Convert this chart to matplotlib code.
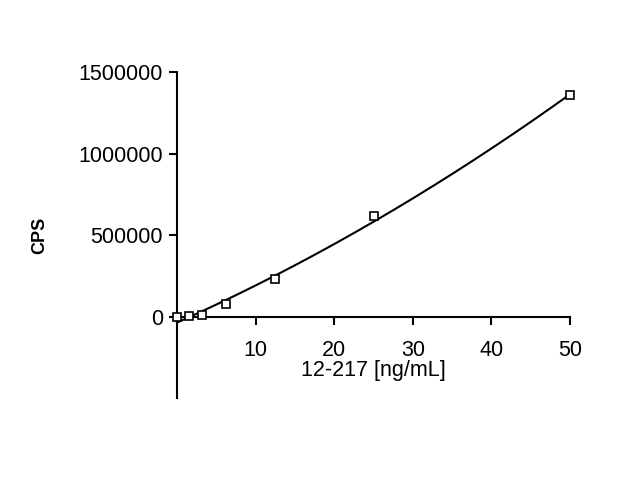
import numpy as np
import matplotlib
matplotlib.use('Agg')
import matplotlib.pyplot as plt

plt.rcParams['font.family'] = ['Liberation Sans', 'DejaVu Sans']

conc = [0, 1.5625, 3.125, 6.25, 12.5, 25, 50]
cps = [0, 3000, 12000, 74000, 228000, 615000, 1357000]
yticks = [0, 500000, 1000000, 1500000]
xticks = [10, 20, 30, 40, 50]

coef = np.polyfit(conc, cps, 2)
xf = np.linspace(0, 50, 200)
yf = np.polyval(coef, xf)

fig = plt.figure(figsize=(6.4, 4.8), dpi=100)
ax = fig.add_axes([0.2766, 0.1708, 0.6141, 0.6792])

ax.plot(xf, yf, color='black', lw=1.5, clip_on=False)
ax.plot(conc, cps, ls='none', marker='s', ms=5.5, mfc='white', mec='black', mew=1.2, clip_on=False, zorder=3)

ax.set_xlim(0, 50)
ax.set_ylim(-500000, 1500000)
ax.set_xticks(xticks)
ax.set_yticks(yticks)
ax.set_yticklabels([str(v) for v in yticks])

for s in ['top', 'right']:
    ax.spines[s].set_visible(False)
ax.spines['bottom'].set_position(('data', 0))
ax.spines['left'].set_linewidth(1.5)
ax.spines['bottom'].set_linewidth(1.5)
ax.tick_params(axis='both', labelsize=15.5, width=1.5, length=6, colors='black')
ax.tick_params(axis='x', pad=11)
ax.tick_params(axis='y', pad=4)

ax.set_xlabel('12-217 [ng/mL]', fontsize=15.5, labelpad=-1)
ax.set_ylabel('CPS', fontsize=13, fontweight='bold', labelpad=22)

fig.savefig('out.png', dpi=100)
